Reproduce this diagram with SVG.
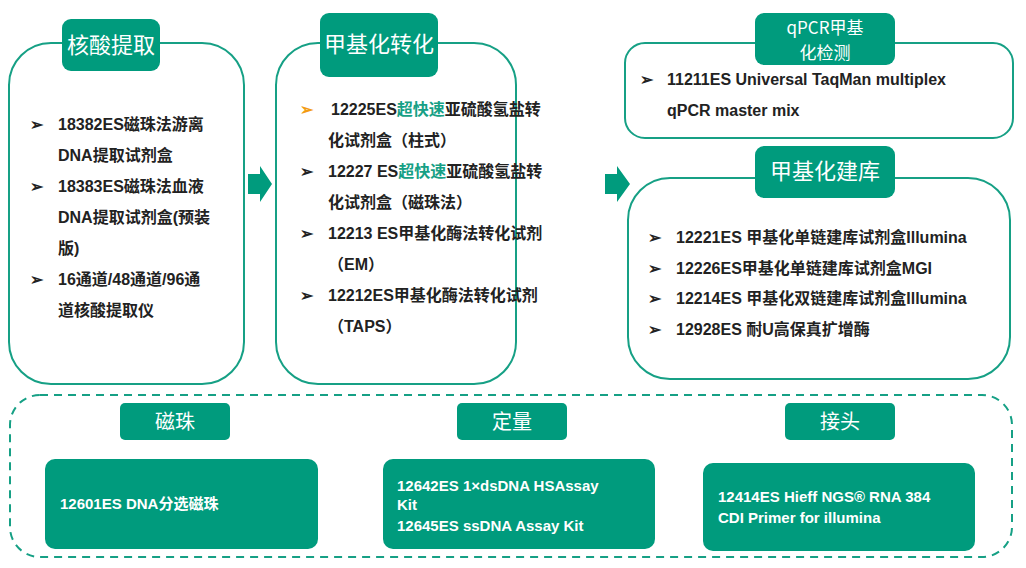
<svg xmlns="http://www.w3.org/2000/svg" width="1026" height="568" viewBox="0 0 1026 568">
<style>
.box{fill:#fff;stroke:#16a085;stroke-width:2}
.lab{fill:#009b7d}
.lt{font-family:"Noto Sans CJK SC","Liberation Sans",sans-serif;font-size:22px;fill:#fff;text-anchor:middle}
.t{font-family:"Liberation Sans","Noto Sans CJK SC",sans-serif;font-size:16px;font-weight:bold;fill:#222}
.g{fill:#16a085}
.o{fill:#f39c12}
.w{font-family:"Liberation Sans","Noto Sans CJK SC",sans-serif;font-size:15px;font-weight:bold;fill:#fff}
</style>
<rect width="1026" height="568" fill="#fff"/>
<g id="connectors">
<polygon class="lab" points="248,174 260,174 260,166 272,184 260,202 260,194 248,194"/>
<polygon class="lab" points="605,174 617,174 617,166 630,184 617,202 617,194 605,194"/>
</g>
<g id="n1">
<rect class="box" x="9" y="43" width="235" height="341" rx="42"/>
<rect class="lab" x="62" y="19" width="98" height="52" rx="9"/>
<text class="lt" x="111" y="53">核酸提取</text>
<text class="t" x="30" y="130">➢<tspan x="58">18382ES磁珠法游离</tspan><tspan x="58" y="161">DNA提取试剂盒</tspan></text>
<text class="t" x="30" y="192">➢<tspan x="58">18383ES磁珠法血液</tspan><tspan x="58" y="223">DNA提取试剂盒(预装</tspan><tspan x="58" y="254">版)</tspan></text>
<text class="t" x="30" y="285">➢<tspan x="58">16通道/48通道/96通</tspan><tspan x="58" y="316">道核酸提取仪</tspan></text>
</g>
<g id="n2">
<rect class="box" x="276" y="43" width="240" height="341" rx="42"/>
<rect class="lab" x="320" y="13" width="118" height="64" rx="9"/>
<text class="lt" x="379" y="52">甲基化转化</text>
<text class="t" x="300" y="115"><tspan class="o">➢</tspan><tspan x="331">12225ES</tspan><tspan class="g">超快速</tspan>亚硫酸氢盐转<tspan x="328" y="146">化试剂盒（柱式）</tspan></text>
<text class="t" x="300" y="177">➢<tspan x="328">12227 ES</tspan><tspan class="g">超快速</tspan>亚硫酸氢盐转<tspan x="328" y="208">化试剂盒（磁珠法）</tspan></text>
<text class="t" x="300" y="239">➢<tspan x="328">12213 ES甲基化酶法转化试剂</tspan><tspan x="328" y="270">（EM）</tspan></text>
<text class="t" x="300" y="301">➢<tspan x="328">12212ES甲基化酶法转化试剂</tspan><tspan x="328" y="332">（TAPS）</tspan></text>
</g>
<g id="n3">
<rect class="box" x="625" y="43" width="388" height="95" rx="20"/>
<rect class="lab" x="755" y="13" width="140" height="52" rx="9"/>
<text class="lt" x="825" y="34" style="font-size:17px">qPCR甲基<tspan x="825" y="59">化检测</tspan></text>
<text class="t" x="640" y="85">➢<tspan x="667">11211ES Universal TaqMan multiplex</tspan><tspan x="667" y="116">qPCR master mix</tspan></text>
</g>
<g id="n4">
<rect class="box" x="628" y="178" width="382" height="201" rx="42"/>
<rect class="lab" x="755" y="146" width="140" height="52" rx="9"/>
<text class="lt" x="825" y="179">甲基化建库</text>
<text class="t" x="648" y="243">➢<tspan x="676">12221ES 甲基化单链建库试剂盒Illumina</tspan></text>
<text class="t" x="648" y="274">➢<tspan x="676">12226ES甲基化单链建库试剂盒MGI</tspan></text>
<text class="t" x="648" y="304">➢<tspan x="676">12214ES 甲基化双链建库试剂盒Illumina</tspan></text>
<text class="t" x="648" y="335">➢<tspan x="676">12928ES 耐U高保真扩增酶</tspan></text>
</g>
<g id="n5">
<rect x="10" y="395" width="1002" height="162" rx="30" fill="none" stroke="#16a085" stroke-width="2" stroke-dasharray="8,6"/>
<rect class="lab" x="120" y="403" width="110" height="37" rx="5"/>
<text class="lt" x="175" y="429" style="font-size:20px">磁珠</text>
<rect class="lab" x="457" y="403" width="110" height="37" rx="5"/>
<text class="lt" x="512" y="429" style="font-size:20px">定量</text>
<rect class="lab" x="785" y="403" width="110" height="37" rx="5"/>
<text class="lt" x="840" y="429" style="font-size:20px">接头</text>
<rect class="lab" x="45" y="459" width="273" height="90" rx="10"/>
<text class="w" x="60" y="509">12601ES DNA分选磁珠</text>
<rect class="lab" x="383" y="459" width="272" height="90" rx="10"/>
<text class="w" x="397" y="491">12642ES 1×dsDNA HSAssay<tspan x="397" y="510">Kit</tspan><tspan x="397" y="531">12645ES ssDNA Assay Kit</tspan></text>
<rect class="lab" x="703" y="463" width="272" height="88" rx="10"/>
<text class="w" x="718" y="502">12414ES Hieff NGS® RNA 384<tspan x="718" y="523">CDI Primer for illumina</tspan></text>
</g>
</svg>
